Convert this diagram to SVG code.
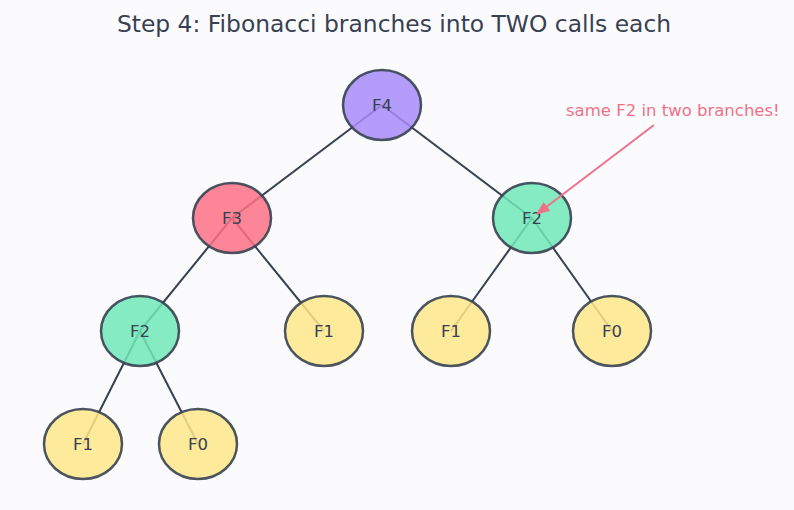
<svg xmlns="http://www.w3.org/2000/svg" width="794" height="510" viewBox="0 0 794 510">
<defs>
<style>
.edge{stroke:#374151;stroke-width:2;fill:none}
.node{stroke:#374151;stroke-width:2.5;fill-opacity:0.85;stroke-opacity:0.9}
.lbl{font-family:"DejaVu Sans",sans-serif;font-size:16.5px;fill:#374151;text-anchor:middle;dominant-baseline:central}
.title{font-family:"DejaVu Sans",sans-serif;font-size:23.4px;fill:#374151;text-anchor:middle}
.note{font-family:"DejaVu Sans",sans-serif;font-size:16.5px;fill:#f07187}
</style>
<marker id="ah" viewBox="0 0 10 10" refX="9" refY="5" markerWidth="7" markerHeight="7" orient="auto">
<path d="M0,1 L10,5 L0,9 z" fill="#f07187"/>
</marker>
</defs>
<rect width="794" height="510" fill="#fbfbfe"/>
<text class="title" x="394" y="32">Step 4: Fibonacci branches into TWO calls each</text>
<g id="connectors">
<line class="edge" x1="382" y1="105" x2="232" y2="218"/>
<line class="edge" x1="382" y1="105" x2="532" y2="218"/>
<line class="edge" x1="232" y1="218" x2="140" y2="331"/>
<line class="edge" x1="232" y1="218" x2="324" y2="331"/>
<line class="edge" x1="532" y1="218" x2="451" y2="331"/>
<line class="edge" x1="532" y1="218" x2="612" y2="331"/>
<line class="edge" x1="140" y1="331" x2="83" y2="444"/>
<line class="edge" x1="140" y1="331" x2="198" y2="444"/>
</g>
<g id="n-f4"><ellipse class="node" cx="382" cy="105" rx="39" ry="35" fill="#a78bfa"/><text class="lbl" x="382" y="105">F4</text></g>
<g id="n-f3"><ellipse class="node" cx="232" cy="218" rx="39" ry="35" fill="#fb7185"/><text class="lbl" x="232" y="218">F3</text></g>
<g id="n-f2a"><ellipse class="node" cx="532" cy="218" rx="39" ry="35" fill="#6ee7b7"/><text class="lbl" x="532" y="218">F2</text></g>
<g id="n-f2b"><ellipse class="node" cx="140" cy="331" rx="39" ry="35" fill="#6ee7b7"/><text class="lbl" x="140" y="331">F2</text></g>
<g id="n-f1a"><ellipse class="node" cx="324" cy="331" rx="39" ry="35" fill="#fde68a"/><text class="lbl" x="324" y="331">F1</text></g>
<g id="n-f1b"><ellipse class="node" cx="451" cy="331" rx="39" ry="35" fill="#fde68a"/><text class="lbl" x="451" y="331">F1</text></g>
<g id="n-f0a"><ellipse class="node" cx="612" cy="331" rx="39" ry="35" fill="#fde68a"/><text class="lbl" x="612" y="331">F0</text></g>
<g id="n-f1c"><ellipse class="node" cx="83" cy="444" rx="39" ry="35" fill="#fde68a"/><text class="lbl" x="83" y="444">F1</text></g>
<g id="n-f0b"><ellipse class="node" cx="198" cy="444" rx="39" ry="35" fill="#fde68a"/><text class="lbl" x="198" y="444">F0</text></g>
<g id="annotation">
<text class="note" x="566" y="116">same F2 in two branches!</text>
<line x1="654" y1="125" x2="537" y2="214" stroke="#f07187" stroke-width="2" marker-end="url(#ah)"/>
</g>
</svg>
